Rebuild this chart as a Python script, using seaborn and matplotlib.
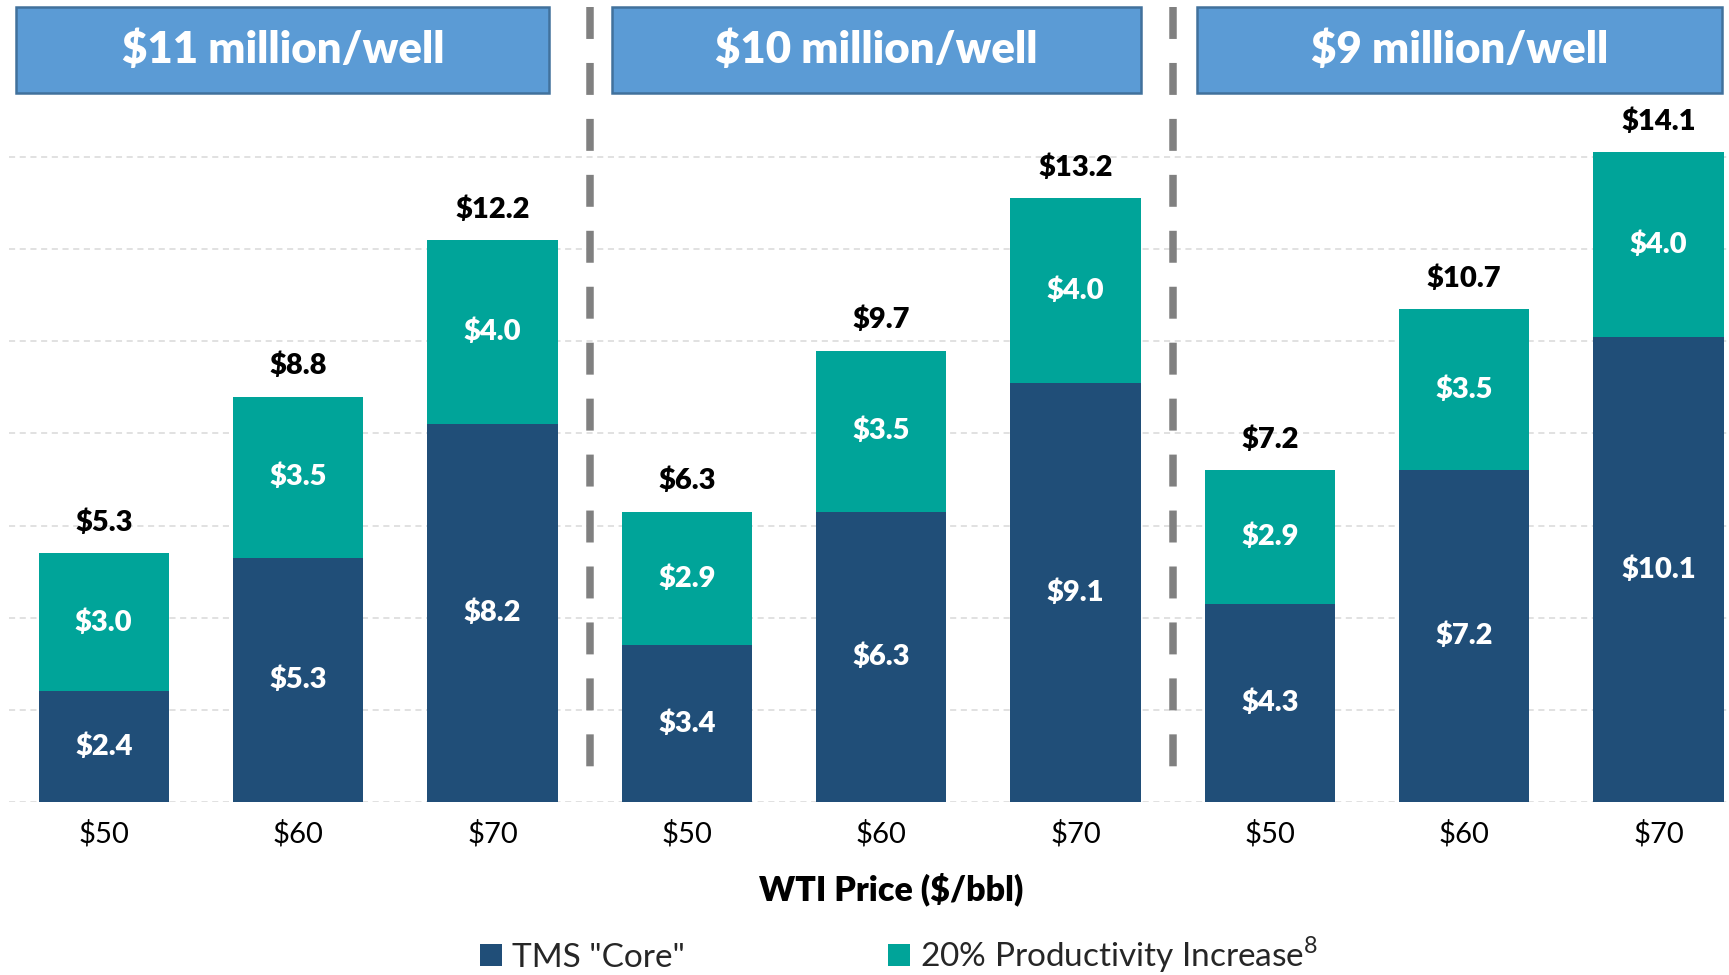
import matplotlib
matplotlib.use("Agg")
import matplotlib.pyplot as plt
import matplotlib.transforms as mtransforms
from matplotlib.patches import Rectangle, Patch
import seaborn as sns
import pandas as pd
import numpy as np

# ---------------- data ----------------
groups = ["$11 million/well", "$10 million/well", "$9 million/well"]
wti_labels = ["$50", "$60", "$70", "$50", "$60", "$70", "$50", "$60", "$70"]
core = [2.4, 5.3, 8.2, 3.4, 6.3, 9.1, 4.3, 7.2, 10.1]
increase = [3.0, 3.5, 4.0, 2.9, 3.5, 4.0, 2.9, 3.5, 4.0]
totals = [5.3, 8.8, 12.2, 6.3, 9.7, 13.2, 7.2, 10.7, 14.1]
series_names = ['TMS "Core"', "20% Productivity Increase"]

# ---------------- style ----------------
sns.set_theme(style="white")
plt.rcParams["font.family"] = ["Lato", "DejaVu Sans"]
plt.rcParams["mathtext.fontset"] = "custom"
plt.rcParams["mathtext.rm"] = "Lato"

C_CORE = "#204E78"
C_INC = "#00A499"
C_HEAD = "#5B9BD5"
C_HEAD_EDGE = "#41719C"
BOLD = "heavy"

fig = plt.figure(figsize=(17.29, 9.75), dpi=100)
W, H = 1729, 975
ax = fig.add_axes([9 / W, (H - 802) / H, (W - 9) / W, 802 / H])

n = len(core)
df = pd.DataFrame({
    "pos": list(range(n)),
    "core": core,
    "stack": [c + i for c, i in zip(core, increase)],
})

sns.barplot(data=df, x="pos", y="stack", color=C_INC, width=0.67,
            saturation=1, ax=ax, edgecolor="none", zorder=3)
sns.barplot(data=df, x="pos", y="core", color=C_CORE, width=0.67,
            saturation=1, ax=ax, edgecolor="none", zorder=3)

ax.set_xlim(-0.4875, 8.363)
ax.set_ylim(0, 802 / 46.07)

ax.set_yticks(np.arange(0, 15, 2))
ax.set_yticklabels([])
ax.tick_params(axis="y", length=0)
ax.yaxis.grid(True, color="#D9D9D9", linestyle=(0, (4, 3)), linewidth=1.1, zorder=0)
ax.xaxis.grid(False)
for s in ax.spines.values():
    s.set_visible(False)

ax.set_xticks(range(n))
ax.set_xticklabels(wti_labels, fontsize=21)
ax.tick_params(axis="x", length=0, pad=13, colors="black")
ax.set_ylabel("")
ax.set_xlabel("WTI Price ($/bbl)", fontsize=24.5, fontweight=BOLD, color="black")
ax.xaxis.set_label_coords((891 - 9) / 1720, -(889 - 802) / 802)
ax.xaxis.label.set_va("center")

# segment labels
for i in range(n):
    ax.text(i, core[i] / 2, f"${core[i]:.1f}", ha="center", va="center",
            color="white", fontsize=21, fontweight=BOLD, zorder=5)
    ax.text(i, core[i] + increase[i] / 2, f"${increase[i]:.1f}", ha="center",
            va="center", color="white", fontsize=21, fontweight=BOLD, zorder=5)
    ax.annotate(f"${totals[i]:.1f}", (i, core[i] + increase[i]),
                xytext=(0, 22), textcoords="offset points", ha="center",
                va="center", fontsize=21, fontweight=BOLD, color="black")

# separators
trans = mtransforms.blended_transform_factory(ax.transData, ax.transAxes)
for xs in [2.5, 5.5]:
    ax.plot([xs, xs], [1 - 7.3 / 802, 1 - 767 / 802], transform=trans,
            color="#808080", linewidth=5.4, linestyle=(0, (4.26, 3.2)),
            solid_capstyle="butt", dash_capstyle="butt", clip_on=False, zorder=4)

# header boxes
px2x = lambda p: (p - 103.7) / 194.2
boxes = [(16.5, 549), (612, 1140), (1196, 1721)]
y0 = 1 - 92.6 / 802
y1 = 1 - 6.6 / 802
for (l, r), g in zip(boxes, groups):
    xl, xr = px2x(l), px2x(r)
    ax.add_patch(Rectangle((xl, y0), xr - xl, y1 - y0, transform=trans,
                           facecolor=C_HEAD, edgecolor=C_HEAD_EDGE, linewidth=1.8,
                           clip_on=False, zorder=6))
    ax.text((xl + xr) / 2, (y0 + y1) / 2, g, transform=trans, ha="center",
            va="center", color="white", fontsize=31.5, fontweight=BOLD, zorder=7)

# legend
handles = [Patch(facecolor=C_CORE, edgecolor="none"),
           Patch(facecolor=C_INC, edgecolor="none")]
labels = [series_names[0], series_names[1] + r"$^{\mathrm{8}}$"]
fig.legend(handles, labels, loc="center", bbox_to_anchor=(899 / W, 1 - 955 / H),
           ncol=2, frameon=False, fontsize=24, handlelength=0.65,
           handleheight=0.65, handletextpad=0.3, columnspacing=6.1,
           borderpad=0, borderaxespad=0)

fig.savefig("out.png", dpi=100)
